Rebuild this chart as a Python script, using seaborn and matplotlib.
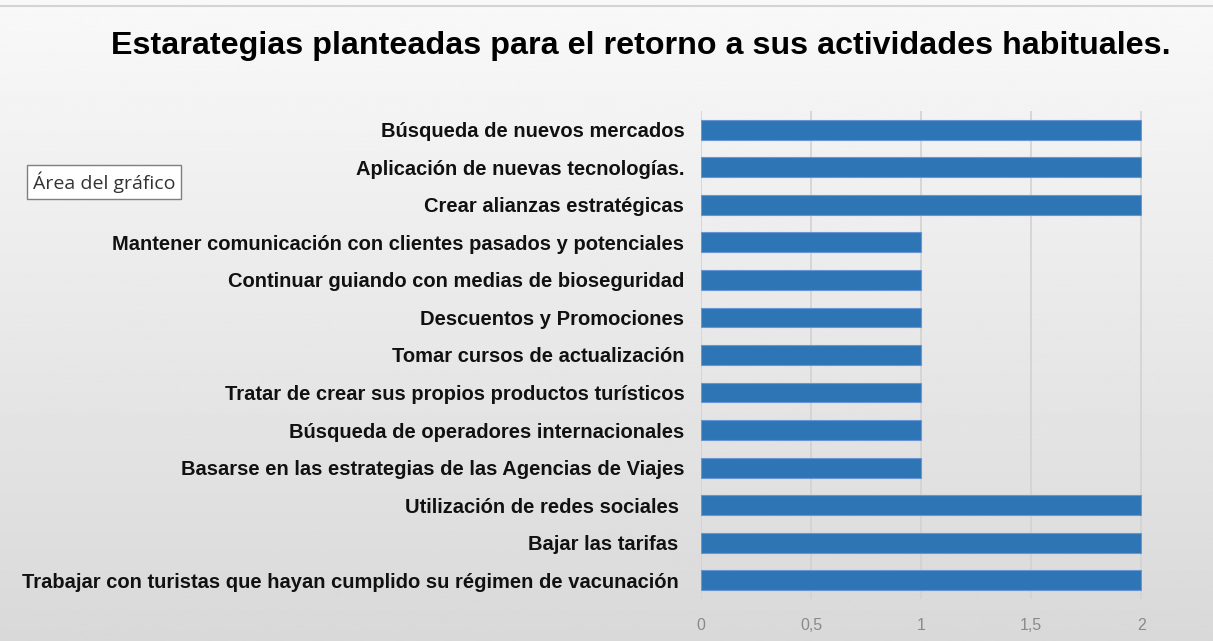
import numpy as np
import pandas as pd
import matplotlib.pyplot as plt
import seaborn as sns

estrategias = [
    "Búsqueda de nuevos mercados",
    "Aplicación de nuevas tecnologías.",
    "Crear alianzas estratégicas",
    "Mantener comunicación con clientes pasados y potenciales",
    "Continuar guiando con medias de bioseguridad",
    "Descuentos y Promociones",
    "Tomar cursos de actualización",
    "Tratar de crear sus propios productos turísticos",
    "Búsqueda de operadores internacionales",
    "Basarse en las estrategias de las Agencias de Viajes",
    "Utilización de redes sociales ",
    "Bajar las tarifas ",
    "Trabajar con turistas que hayan cumplido su régimen de vacunación ",
]
frecuencia = [2, 2, 2, 1, 1, 1, 1, 1, 1, 1, 2, 2, 2]
ticks = [0, 0.5, 1, 1.5, 2]
tick_labels = ["0", "0,5", "1", "1,5", "2"]

titulo = "Estarategias planteadas para el retorno a sus actividades habituales."


def plot_data(dados):
    sns.set_style("white")
    plt.rcParams['font.family'] = ['Liberation Sans', 'DejaVu Sans']

    fig = plt.figure(figsize=(12.13, 6.41), dpi=100)

    # fondo degradado (estilo Excel)
    bg = fig.add_axes([0, 0, 1, 1], zorder=-10)
    grad = np.linspace(0.975, 0.85, 256).reshape(-1, 1)
    bg.imshow(grad, cmap='gray', vmin=0, vmax=1, aspect='auto', extent=[0, 1, 0, 1])
    bg.axhline(0.99, color='#d4d4d4', lw=1.5)
    bg.set_axis_off()

    ax = fig.add_axes([701 / 1213, 1 - 599 / 641, (1142 - 701) / 1213, (599 - 111) / 641])
    ax.patch.set_alpha(0)
    sns.barplot(data=dados, x='frecuencia', y='estrategia', orient='h',
                color='#2E75B6', saturation=1, width=0.53,
                edgecolor='#6a95d4', linewidth=0.8, ax=ax, zorder=3)

    ax.set_xlim(0, 2.003)
    ax.set_xticks(ticks)
    ax.set_xticklabels(tick_labels, color='#8a8a8a', fontsize=11.5)
    ax.tick_params(axis='x', length=0, pad=14)
    ax.tick_params(axis='y', length=0, pad=12)
    for lab in ax.get_yticklabels():
        lab.set_fontweight('bold')
        lab.set_fontsize(14.5)
        lab.set_color('#111111')
    ax.grid(axis='x', color='#d2d2d2', lw=1.2, zorder=0)
    ax.set_axisbelow(True)
    for s in ax.spines.values():
        s.set_visible(False)
    ax.set_xlabel('')
    ax.set_ylabel('')

    fig.text(0.5285, 1 - 46 / 641, titulo, ha='center', va='center',
             fontsize=23.2, fontweight='bold', color='black')

    fig.text(33 / 1213, 1 - 182 / 641, "Área del gráfico", ha='left', va='center',
             fontsize=14, color='#333333', family=['Open Sans', 'DejaVu Sans'],
             bbox=dict(boxstyle='square,pad=0.3', fc='white', ec='#7f7f7f', lw=1))

    fig.savefig('out.png', dpi=100)


def main():
    dados = pd.DataFrame({'estrategia': estrategias, 'frecuencia': frecuencia})
    plot_data(dados)


if __name__ == "__main__":
    main()
